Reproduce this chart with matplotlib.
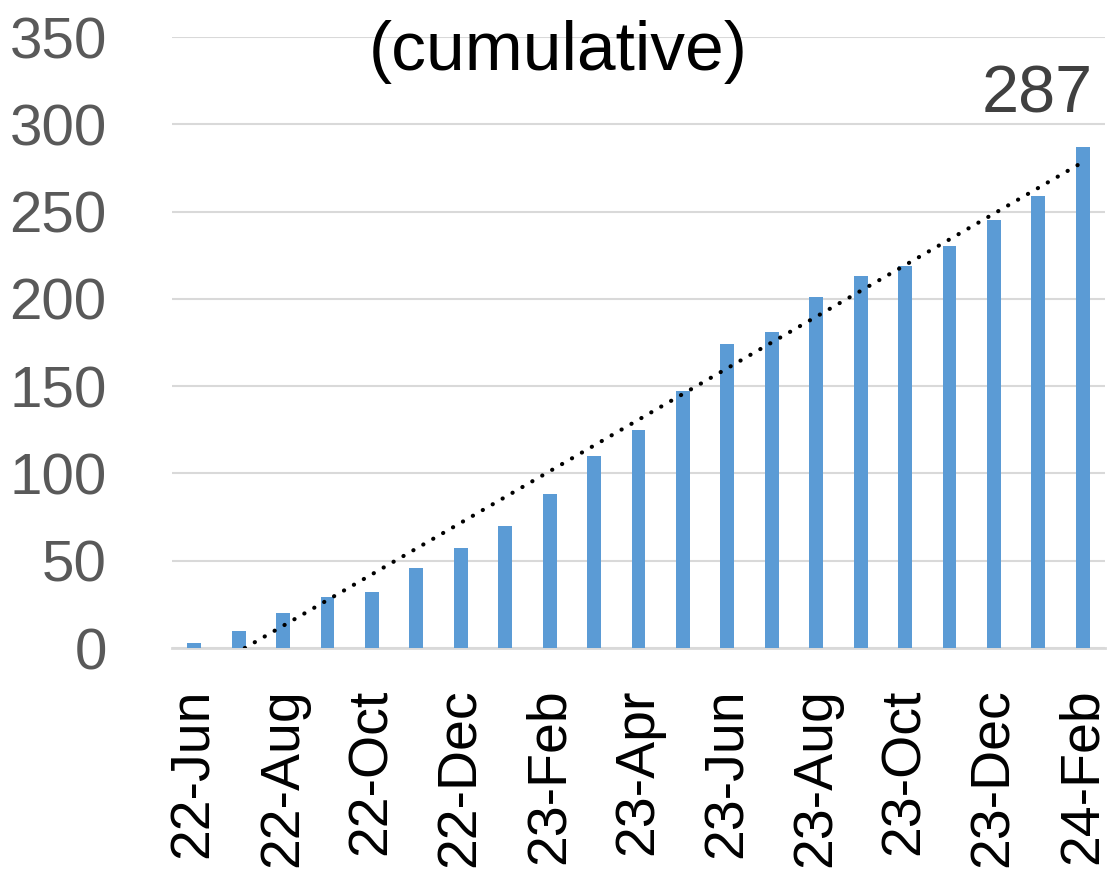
import numpy as np
import matplotlib
matplotlib.use("Agg")
import matplotlib.pyplot as plt

# monthly cumulative counts, Jun 2022 .. Feb 2024
months = ["22-Jun", "22-Jul", "22-Aug", "22-Sep", "22-Oct", "22-Nov", "22-Dec",
          "23-Jan", "23-Feb", "23-Mar", "23-Apr", "23-May", "23-Jun", "23-Jul",
          "23-Aug", "23-Sep", "23-Oct", "23-Nov", "23-Dec", "24-Jan", "24-Feb"]
counts = [3, 10, 20, 29, 32, 46, 57, 70, 88, 110, 125, 147, 174, 181, 201,
          213, 219, 230, 245, 259, 287]
yticks = [0, 50, 100, 150, 200, 250, 300, 350]

plt.rcParams["font.family"] = ["Liberation Sans", "DejaVu Sans"]

fig = plt.figure(figsize=(11.15, 8.71), dpi=100)
ax = fig.add_axes([172/1115, 1 - 648/871, 933/1115, 611/871])

x = np.arange(len(counts))
ax.bar(x, counts, width=0.31, color="#5B9BD5", zorder=3)

# linear trend, clipped at zero like the spreadsheet does
m, b = np.polyfit(x, counts, 1)
x0 = -b / m
xt = np.array([x0, x[-1]])
ax.plot(xt, m * xt + b, color="black", lw=3, linestyle=(0, (0.05, 2.7)),
        dash_capstyle="round", zorder=4)

ax.set_xlim(-0.5, len(counts) - 0.5)
ax.set_ylim(0, 350)
ax.set_yticks(yticks)
ax.yaxis.grid(True, color="#D9D9D9", lw=1.5, zorder=0)
for s in ["top", "right", "left"]:
    ax.spines[s].set_visible(False)
ax.spines["bottom"].set_color("#D9D9D9")
ax.spines["bottom"].set_linewidth(2)
ax.spines["bottom"].set_zorder(2)

ax.set_xticks(x[::2])
ax.set_xticklabels(months[::2], rotation=90)
ax.tick_params(axis="x", length=0, pad=29, labelsize=40, labelcolor="black")
ax.tick_params(axis="y", length=0, pad=47, labelsize=42, labelcolor="#595959")

ax.annotate(str(counts[-1]), xy=(x[-1], counts[-1]), xytext=(10, 20),
            textcoords="offset pixels", ha="right", va="bottom",
            fontsize=48, color="#404040")

fig.text(558/1115, 1 - 52/871, "(cumulative)", ha="center", va="center",
         fontsize=50, color="black")

fig.savefig("out.png", dpi=100)
